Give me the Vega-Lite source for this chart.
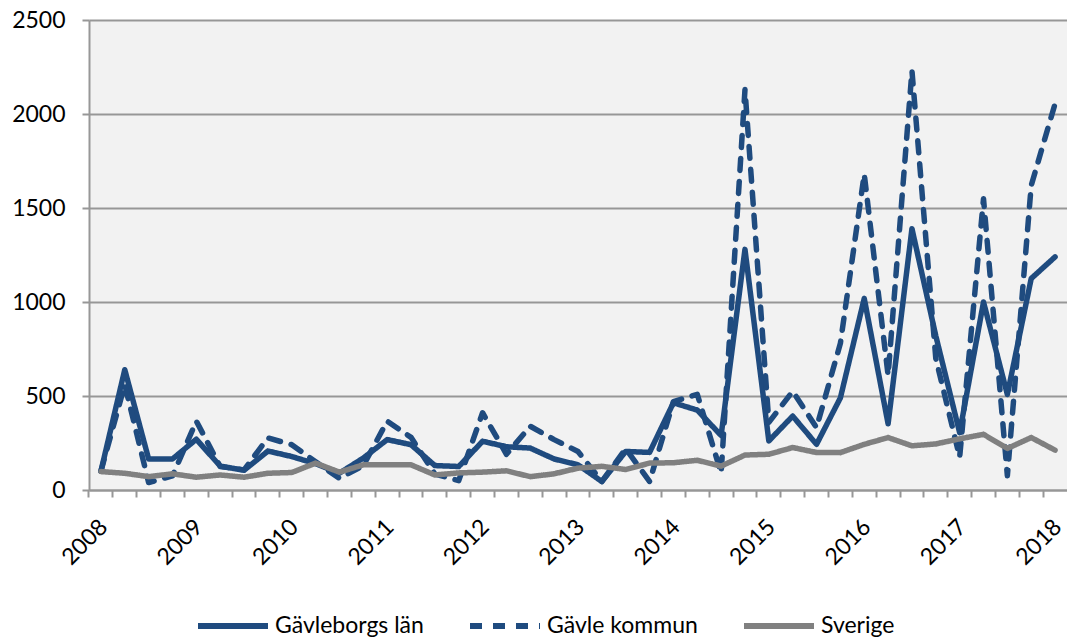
{
  "$schema": "https://vega.github.io/schema/vega-lite/v6.json",
  "autosize": {"type": "none"},
  "padding": {"left": 89, "top": 20, "right": 0, "bottom": 149},
  "width": 978,
  "height": 470,
  "background": "white",
  "config": {
    "view": {"fill": "#f2f2f2", "stroke": null},
    "font": "Lato",
    "axis": {
      "labelFont": "Lato", "labelFontSize": 23, "labelColor": "#000000",
      "domainColor": "#979797", "domainWidth": 2,
      "tickColor": "#979797", "tickWidth": 2, "tickSize": 7,
      "gridColor": "#979797", "gridWidth": 2, "title": null
    }
  },
  "data": {"values": [
    {"kvartal": "2008K1", "Gävleborgs län": 100, "Gävle kommun": 100, "Sverige": 98},
    {"kvartal": "2008K2", "Gävleborgs län": 640, "Gävle kommun": 560, "Sverige": 89},
    {"kvartal": "2008K3", "Gävleborgs län": 165, "Gävle kommun": 40, "Sverige": 71},
    {"kvartal": "2008K4", "Gävleborgs län": 165, "Gävle kommun": 75, "Sverige": 86},
    {"kvartal": "2009K1", "Gävleborgs län": 270, "Gävle kommun": 366, "Sverige": 68},
    {"kvartal": "2009K2", "Gävleborgs län": 127, "Gävle kommun": 125, "Sverige": 80},
    {"kvartal": "2009K3", "Gävleborgs län": 105, "Gävle kommun": 107, "Sverige": 68},
    {"kvartal": "2009K4", "Gävleborgs län": 207, "Gävle kommun": 277, "Sverige": 89},
    {"kvartal": "2010K1", "Gävleborgs län": 178, "Gävle kommun": 241, "Sverige": 93},
    {"kvartal": "2010K2", "Gävleborgs län": 140, "Gävle kommun": 150, "Sverige": 143},
    {"kvartal": "2010K3", "Gävleborgs län": 90, "Gävle kommun": 62, "Sverige": 95},
    {"kvartal": "2010K4", "Gävleborgs län": 170, "Gävle kommun": 130, "Sverige": 134},
    {"kvartal": "2011K1", "Gävleborgs län": 268, "Gävle kommun": 366, "Sverige": 134},
    {"kvartal": "2011K2", "Gävleborgs län": 241, "Gävle kommun": 280, "Sverige": 134},
    {"kvartal": "2011K3", "Gävleborgs län": 130, "Gävle kommun": 85, "Sverige": 80},
    {"kvartal": "2011K4", "Gävleborgs län": 125, "Gävle kommun": 50, "Sverige": 91},
    {"kvartal": "2012K1", "Gävleborgs län": 259, "Gävle kommun": 411, "Sverige": 95},
    {"kvartal": "2012K2", "Gävleborgs län": 230, "Gävle kommun": 190, "Sverige": 102},
    {"kvartal": "2012K3", "Gävleborgs län": 223, "Gävle kommun": 339, "Sverige": 71},
    {"kvartal": "2012K4", "Gävleborgs län": 165, "Gävle kommun": 268, "Sverige": 86},
    {"kvartal": "2013K1", "Gävleborgs län": 134, "Gävle kommun": 205, "Sverige": 116},
    {"kvartal": "2013K2", "Gävleborgs län": 45, "Gävle kommun": 45, "Sverige": 126},
    {"kvartal": "2013K3", "Gävleborgs län": 205, "Gävle kommun": 220, "Sverige": 109},
    {"kvartal": "2013K4", "Gävleborgs län": 200, "Gävle kommun": 45, "Sverige": 143},
    {"kvartal": "2014K1", "Gävleborgs län": 464, "Gävle kommun": 470, "Sverige": 145},
    {"kvartal": "2014K2", "Gävleborgs län": 425, "Gävle kommun": 509, "Sverige": 158},
    {"kvartal": "2014K3", "Gävleborgs län": 290, "Gävle kommun": 90, "Sverige": 127},
    {"kvartal": "2014K4", "Gävleborgs län": 1280, "Gävle kommun": 2130, "Sverige": 186},
    {"kvartal": "2015K1", "Gävleborgs län": 261, "Gävle kommun": 360, "Sverige": 190},
    {"kvartal": "2015K2", "Gävleborgs län": 393, "Gävle kommun": 525, "Sverige": 226},
    {"kvartal": "2015K3", "Gävleborgs län": 243, "Gävle kommun": 332, "Sverige": 199},
    {"kvartal": "2015K4", "Gävleborgs län": 490, "Gävle kommun": 780, "Sverige": 199},
    {"kvartal": "2016K1", "Gävleborgs län": 1019, "Gävle kommun": 1680, "Sverige": 243},
    {"kvartal": "2016K2", "Gävleborgs län": 352, "Gävle kommun": 610, "Sverige": 279},
    {"kvartal": "2016K3", "Gävleborgs län": 1390, "Gävle kommun": 2230, "Sverige": 235},
    {"kvartal": "2016K4", "Gävleborgs län": 820, "Gävle kommun": 700, "Sverige": 245},
    {"kvartal": "2017K1", "Gävleborgs län": 305, "Gävle kommun": 175, "Sverige": 272},
    {"kvartal": "2017K2", "Gävleborgs län": 1000, "Gävle kommun": 1549, "Sverige": 296},
    {"kvartal": "2017K3", "Gävleborgs län": 508, "Gävle kommun": 76, "Sverige": 221},
    {"kvartal": "2017K4", "Gävleborgs län": 1125, "Gävle kommun": 1620, "Sverige": 279},
    {"kvartal": "2018K1", "Gävleborgs län": 1240, "Gävle kommun": 2055, "Sverige": 212}
  ]},
  "transform": [
    {"fold": ["Gävleborgs län", "Gävle kommun", "Sverige"], "as": ["serie", "antal"]}
  ],
  "encoding": {
    "y": {
      "field": "antal", "type": "quantitative",
      "scale": {"domain": [0, 2500], "nice": false, "zero": true},
      "axis": {"values": [0, 500, 1000, 1500, 2000, 2500], "format": "d", "grid": true, "tickSize": 7, "labelPadding": 17, "domain": true}
    },
    "color": {
      "field": "serie", "type": "nominal",
      "scale": {"domain": ["Gävleborgs län", "Gävle kommun", "Sverige"], "range": ["#1f4b7f", "#1f4b7f", "#808080"]},
      "legend": {
        "orient": "none", "legendX": 106, "legendY": 568, "direction": "horizontal", "columns": 3,
        "title": null, "symbolType": "stroke", "symbolSize": 4900, "symbolStrokeWidth": 6,
        "labelFont": "Lato", "labelFontSize": 23, "labelColor": "#000000", "labelOffset": 4,
        "columnPadding": 34, "labelLimit": 400
      }
    },
    "strokeDash": {
      "field": "serie", "type": "nominal",
      "scale": {"domain": ["Gävleborgs län", "Gävle kommun", "Sverige"], "range": [[1, 0], [12, 11], [1, 0]]},
      "legend": {
        "orient": "none", "legendX": 106, "legendY": 568, "direction": "horizontal", "columns": 3,
        "title": null, "symbolType": "stroke", "symbolSize": 4900, "symbolStrokeWidth": 6,
        "labelFont": "Lato", "labelFontSize": 23, "labelColor": "#000000", "labelOffset": 4,
        "columnPadding": 34, "labelLimit": 400
      }
    }
  },
  "layer": [
    {
      "transform": [{"filter": "datum.serie === 'Gävleborgs län'"}],
      "mark": {"type": "line", "strokeWidth": 5.5, "strokeCap": "round", "strokeJoin": "round"},
      "encoding": {
        "x": {
          "field": "kvartal", "type": "ordinal", "bandPosition": 0.5,
          "scale": {"type": "band", "paddingInner": 0, "paddingOuter": 0},
          "axis": {
            "orient": "bottom", "ticks": false, "domain": false, "grid": false,
            "labelExpr": "slice(datum.value, 4) === 'K1' ? slice(datum.value, 0, 4) : ''",
            "labelAngle": -45, "labelAlign": "right", "labelBaseline": "middle",
            "labelPadding": 33, "labelOffset": 3, "labelOverlap": false, "labelBound": false, "labelFlush": false, "bandPosition": 0.5
          }
        }
      }
    },
    {
      "transform": [{"filter": "datum.serie === 'Gävle kommun'"}],
      "mark": {"type": "line", "strokeWidth": 5.5, "strokeCap": "round", "strokeJoin": "round"},
      "encoding": {
        "x": {
          "field": "kvartal", "type": "ordinal", "bandPosition": 0.5,
          "scale": {"type": "band", "paddingInner": 0, "paddingOuter": 0},
          "axis": {"orient": "bottom", "labels": false, "grid": false, "ticks": true, "domain": true, "bandPosition": 0, "tickSize": 7}
        }
      }
    },
    {
      "transform": [{"filter": "datum.serie === 'Sverige'"}],
      "mark": {"type": "line", "strokeWidth": 5.5, "strokeCap": "round", "strokeJoin": "round"},
      "encoding": {
        "x": {
          "field": "kvartal", "type": "ordinal", "bandPosition": 0.5,
          "scale": {"type": "band", "paddingInner": 0, "paddingOuter": 0},
          "axis": null
        }
      }
    }
  ],
  "resolve": {"axis": {"x": "independent"}}
}
